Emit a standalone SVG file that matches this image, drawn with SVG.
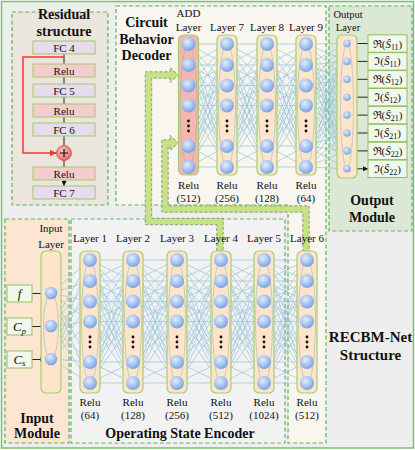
<svg xmlns="http://www.w3.org/2000/svg" xmlns:xlink="http://www.w3.org/1999/xlink" width="415" height="450" viewBox="0 0 415 450">
<style>
.t{font-family:'Liberation Serif','Times New Roman',serif;fill:#111;text-anchor:middle}
.s{font-size:11px}
.b{font-size:14px;font-weight:bold}
.pan{stroke:#5fb55a;stroke-width:1.2;stroke-dasharray:4 2.5}
.col{fill:#fde4cb;stroke:#a9cd72;stroke-width:1.2}
.add{fill:#f6b5ad;stroke:#a9cd72;stroke-width:1.2}
.fc{fill:#e6dcee;stroke:#a3c86b;stroke-width:1}
.re{fill:#f5cccc;stroke:#a3c86b;stroke-width:1}
.ib{fill:#f2f7ec;stroke:#8fc05f;stroke-width:1}
.cl{fill:none;stroke:#8fc0da;stroke-width:0.7;opacity:0.9}
.ar{fill:none;stroke:#111;stroke-width:0.9}
.ga{fill:#c5e384;stroke:#808080;stroke-width:0.8;stroke-dasharray:3 2}
</style>
<defs>
<radialGradient id="ng" cx="40%" cy="35%" r="65%">
<stop offset="0" stop-color="#e3edfc"/>
<stop offset="0.6" stop-color="#a4c2ee"/>
<stop offset="1" stop-color="#7aa3e2"/>
</radialGradient>
<radialGradient id="pg" cx="40%" cy="35%" r="65%">
<stop offset="0" stop-color="#fbc6c0"/>
<stop offset="1" stop-color="#e46a66"/>
</radialGradient>
<marker id="ah" markerUnits="userSpaceOnUse" markerWidth="5" markerHeight="5" refX="5" refY="2.5" orient="auto">
<path d="M0,0 L5,2.5 L0,5 z" fill="#111"/>
</marker>
<marker id="rh" markerUnits="userSpaceOnUse" markerWidth="7" markerHeight="7" refX="7" refY="3.5" orient="auto">
<path d="M0,0 L7,3.5 L0,7 z" fill="#ff3333"/>
</marker>
<path id="b66" class="cl" vector-effect="non-scaling-stroke" d="M0 0L1 0M0 0L1 21M0 0L1 41.5M0 0L1 61.5M0 0L1 102M0 0L1 123M0 21L1 0M0 21L1 21M0 21L1 41.5M0 21L1 61.5M0 21L1 102M0 21L1 123M0 41.5L1 0M0 41.5L1 21M0 41.5L1 41.5M0 41.5L1 61.5M0 41.5L1 102M0 41.5L1 123M0 61.5L1 0M0 61.5L1 21M0 61.5L1 41.5M0 61.5L1 61.5M0 61.5L1 102M0 61.5L1 123M0 102L1 0M0 102L1 21M0 102L1 41.5M0 102L1 61.5M0 102L1 102M0 102L1 123M0 123L1 0M0 123L1 21M0 123L1 41.5M0 123L1 61.5M0 123L1 102M0 123L1 123"/>
<g id="neur6">
<ellipse cx="0" cy="61.5" rx="8.5" ry="61.5" fill="none" stroke="#7fb3a0" stroke-width="0.8" opacity="0.6"/>
<circle cx="0" cy="0" r="7" fill="url(#ng)"/>
<circle cx="0" cy="21" r="7" fill="url(#ng)"/>
<circle cx="0" cy="41.5" r="7" fill="url(#ng)"/>
<circle cx="0" cy="61.5" r="7" fill="url(#ng)"/>
<circle cx="0" cy="102" r="7" fill="url(#ng)"/>
<circle cx="0" cy="123" r="7" fill="url(#ng)"/>
<circle cx="0" cy="77" r="1.4" fill="#111"/>
<circle cx="0" cy="82" r="1.4" fill="#111"/>
<circle cx="0" cy="87" r="1.4" fill="#111"/>
</g>
</defs>

<!-- background and panels -->
<rect x="1.5" y="1.5" width="412" height="446.5" fill="#eeeeee" stroke="#7ac36a" stroke-width="1.5"/>
<g id="residual-panel">
<rect class="pan" x="12" y="12" width="96" height="193" fill="#ebe6dd"/>
<text class="t b" x="64" y="19">Residual</text>
<text class="t b" x="64" y="36">structure</text>
</g>
<g id="decoder-panel">
<path class="pan" d="M116 6H326V443H288V205H116Z" fill="#f8f6ee"/>
<text class="t b" x="146.5" y="27">Circuit</text>
<text class="t b" x="146.5" y="44">Behavior</text>
<text class="t b" x="146.5" y="60">Decoder</text>
</g>
<g id="output-panel">
<rect class="pan" x="329" y="6" width="83" height="225" fill="#dce8d6"/>
<text class="t b" x="372" y="205">Output</text>
<text class="t b" x="372" y="222">Module</text>
</g>
<g id="input-panel">
<rect class="pan" x="5" y="219" width="64" height="224" fill="#fce5d1"/>
<text class="t b" x="37" y="423">Input</text>
<text class="t b" x="37" y="438">Module</text>
</g>
<g id="encoder-panel">
<rect class="pan" x="71" y="219" width="214" height="224" fill="#f2f2f2"/>
<text class="t b" x="180" y="438">Operating State Encoder</text>
</g>
<g id="title">
<text class="t" x="370.5" y="342" style="font-size:15px;font-weight:bold">RECBM-Net</text>
<text class="t" x="370.5" y="360" style="font-size:15px;font-weight:bold">Structure</text>
</g>

<!-- connectors -->
<g id="connectors">
<path class="cl" d="M51 293L90 260M51 293L90 281M51 293L90 301.5M51 293L90 321.5M51 293L90 362M51 293L90 383M51 326L90 260M51 326L90 281M51 326L90 301.5M51 326L90 321.5M51 326L90 362M51 326L90 383M51 359L90 260M51 359L90 281M51 359L90 301.5M51 359L90 321.5M51 359L90 362M51 359L90 383"/>
<use xlink:href="#b66" href="#b66" transform="translate(90,260) scale(43,1)"/>
<use xlink:href="#b66" href="#b66" transform="translate(133,260) scale(44,1)"/>
<use xlink:href="#b66" href="#b66" transform="translate(177,260) scale(44,1)"/>
<use xlink:href="#b66" href="#b66" transform="translate(221,260) scale(43,1)"/>
<use xlink:href="#b66" href="#b66" transform="translate(264,260) scale(43,1)"/>
<use xlink:href="#b66" href="#b66" transform="translate(188.5,44) scale(38.5,1)"/>
<use xlink:href="#b66" href="#b66" transform="translate(227,44) scale(40,1)"/>
<use xlink:href="#b66" href="#b66" transform="translate(267,44) scale(39,1)"/>
<path class="cl" d="M306 44L347 43.5M306 44L347 61.4M306 44L347 79.3M306 44L347 97.2M306 44L347 115.1M306 44L347 133M306 44L347 150.9M306 44L347 168.8M306 65L347 43.5M306 65L347 61.4M306 65L347 79.3M306 65L347 97.2M306 65L347 115.1M306 65L347 133M306 65L347 150.9M306 65L347 168.8M306 85.5L347 43.5M306 85.5L347 61.4M306 85.5L347 79.3M306 85.5L347 97.2M306 85.5L347 115.1M306 85.5L347 133M306 85.5L347 150.9M306 85.5L347 168.8M306 105.5L347 43.5M306 105.5L347 61.4M306 105.5L347 79.3M306 105.5L347 97.2M306 105.5L347 115.1M306 105.5L347 133M306 105.5L347 150.9M306 105.5L347 168.8M306 146L347 43.5M306 146L347 61.4M306 146L347 79.3M306 146L347 97.2M306 146L347 115.1M306 146L347 133M306 146L347 150.9M306 146L347 168.8M306 167L347 43.5M306 167L347 61.4M306 167L347 79.3M306 167L347 97.2M306 167L347 115.1M306 167L347 133M306 167L347 150.9M306 167L347 168.8"/>
<!-- residual arrows -->
<path class="ar" marker-end="url(#ah)" d="M64 54V64M64 77V84M64 97V104M64 117V123M64 136V145.5M64 160.5V167M64 180V186"/>
<path d="M64 57H23V153H56.5" fill="none" stroke="#ff3333" stroke-width="1.5" marker-end="url(#rh)"/>
<!-- input arrows -->
<path class="ar" marker-end="url(#ah)" d="M32 293.5H44.5M32 326.5H44.5M32 359.5H44.5"/>
<!-- output arrows -->
<path class="ar" marker-end="url(#ah)" d="M351 43.5H368M351 61.4H368M351 79.3H368M351 97.2H368M351 115.1H368M351 133H368M351 150.9H368M351 168.8H368"/>
<!-- skip paths to ADD layer -->
<polygon class="ga" points="216.8,251 216.8,224.7 145.3,224.7 145.3,71.8 170,71.8 170,67.5 178.5,75 170,82.5 170,78.2 151.7,78.2 151.7,218.3 223.2,218.3 223.2,251"/>
<polygon class="ga" points="302.8,252 302.8,212.2 161.8,212.2 161.8,139.8 170,139.8 170,135.5 178.5,143 170,150.5 170,146.2 168.2,146.2 168.2,205.8 309.2,205.8 309.2,252"/>
</g>

<!-- residual nodes -->
<g id="fc4"><rect class="fc" x="33" y="41" width="62" height="13"/><text class="t s" x="64" y="51.5">FC 4</text></g>
<g id="relu-a"><rect class="re" x="33" y="64" width="62" height="13"/><text class="t s" x="64" y="74.5">Relu</text></g>
<g id="fc5"><rect class="fc" x="33" y="84" width="62" height="13"/><text class="t s" x="64" y="94.5">FC 5</text></g>
<g id="relu-b"><rect class="re" x="33" y="104" width="62" height="13"/><text class="t s" x="64" y="114.5">Relu</text></g>
<g id="fc6"><rect class="fc" x="33" y="123" width="62" height="13"/><text class="t s" x="64" y="133.5">FC 6</text></g>
<g id="plus"><circle cx="64" cy="153" r="7.5" fill="url(#pg)" stroke="#d04a4a" stroke-width="0.8"/><path d="M60 153H68M64 149V157" stroke="#111" stroke-width="1.2"/></g>
<g id="relu-c"><rect class="re" x="33" y="167" width="62" height="13"/><text class="t s" x="64" y="177.5">Relu</text></g>
<g id="fc7"><rect class="fc" x="33" y="186" width="62" height="13"/><text class="t s" x="64" y="196.5">FC 7</text></g>

<!-- input nodes -->
<g id="in-f"><rect class="ib" x="7" y="285" width="25" height="17"/><text class="t" x="19.5" y="298" style="font-size:13px;font-style:italic">f</text></g>
<g id="in-cp"><rect class="ib" x="7" y="318" width="25" height="17"/><text class="t" x="19.5" y="331" style="font-size:13px;font-style:italic">C<tspan font-size="9" dy="3">p</tspan></text></g>
<g id="in-cs"><rect class="ib" x="7" y="351" width="25" height="17"/><text class="t" x="19.5" y="364" style="font-size:13px;font-style:italic">C<tspan font-size="9" dy="2">s</tspan></text></g>

<g id="input-layer">
<rect class="col" x="41" y="251" width="20" height="142" rx="5"/>
<ellipse cx="51" cy="326" rx="7.5" ry="33" fill="none" stroke="#7fb3a0" stroke-width="0.8" opacity="0.6"/>
<circle cx="51" cy="293" r="6.3" fill="url(#ng)"/>
<circle cx="51" cy="326" r="6.3" fill="url(#ng)"/>
<circle cx="51" cy="359" r="6.3" fill="url(#ng)"/>
<text class="t s" x="51" y="232">Input</text>
<text class="t s" x="51" y="247.5">Layer</text>
</g>

<!-- encoder layers -->
<g id="layer1"><rect class="col" x="80" y="251" width="20" height="142" rx="5"/><use href="#neur6" xlink:href="#neur6" transform="translate(90,260)"/><text class="t s" x="90" y="241.5">Layer 1</text><text class="t s" x="90" y="406">Relu</text><text class="t s" x="90" y="418.5">(64)</text></g>
<g id="layer2"><rect class="col" x="123" y="251" width="20" height="142" rx="5"/><use href="#neur6" xlink:href="#neur6" transform="translate(133,260)"/><text class="t s" x="133" y="241.5">Layer 2</text><text class="t s" x="133" y="406">Relu</text><text class="t s" x="133" y="418.5">(128)</text></g>
<g id="layer3"><rect class="col" x="167" y="251" width="20" height="142" rx="5"/><use href="#neur6" xlink:href="#neur6" transform="translate(177,260)"/><text class="t s" x="177" y="241.5">Layer 3</text><text class="t s" x="177" y="406">Relu</text><text class="t s" x="177" y="418.5">(256)</text></g>
<g id="layer4"><rect class="col" x="211" y="251" width="20" height="142" rx="5"/><use href="#neur6" xlink:href="#neur6" transform="translate(221,260)"/><text class="t s" x="221" y="241.5">Layer 4</text><text class="t s" x="221" y="406">Relu</text><text class="t s" x="221" y="418.5">(512)</text></g>
<g id="layer5"><rect class="col" x="254" y="251" width="20" height="142" rx="5"/><use href="#neur6" xlink:href="#neur6" transform="translate(264,260)"/><text class="t s" x="264" y="241.5">Layer 5</text><text class="t s" x="264" y="406">Relu</text><text class="t s" x="264" y="418.5">(1024)</text></g>
<g id="layer6"><rect class="col" x="297" y="251" width="20" height="142" rx="5"/><use href="#neur6" xlink:href="#neur6" transform="translate(307,260)"/><text class="t s" x="307" y="241.5">Layer 6</text><text class="t s" x="307" y="406">Relu</text><text class="t s" x="307" y="418.5">(512)</text></g>

<!-- decoder layers -->
<g id="add-layer"><rect class="add" x="178.5" y="35" width="20" height="140" rx="5"/><use href="#neur6" xlink:href="#neur6" transform="translate(188.5,44)"/><text class="t s" x="188.5" y="17">ADD</text><text class="t s" x="188.5" y="30.5">Layer</text><text class="t s" x="188.5" y="189">Relu</text><text class="t s" x="188.5" y="201.5">(512)</text></g>
<g id="layer7"><rect class="col" x="217" y="35" width="20" height="140" rx="5"/><use href="#neur6" xlink:href="#neur6" transform="translate(227,44)"/><text class="t s" x="227" y="30.5">Layer 7</text><text class="t s" x="227" y="189">Relu</text><text class="t s" x="227" y="201.5">(256)</text></g>
<g id="layer8"><rect class="col" x="257" y="35" width="20" height="140" rx="5"/><use href="#neur6" xlink:href="#neur6" transform="translate(267,44)"/><text class="t s" x="267" y="30.5">Layer 8</text><text class="t s" x="267" y="189">Relu</text><text class="t s" x="267" y="201.5">(128)</text></g>
<g id="layer9"><rect class="col" x="296" y="35" width="20" height="140" rx="5"/><use href="#neur6" xlink:href="#neur6" transform="translate(306,44)"/><text class="t s" x="306" y="30.5">Layer 9</text><text class="t s" x="306" y="189">Relu</text><text class="t s" x="306" y="201.5">(64)</text></g>

<!-- output layer -->
<g id="output-layer">
<rect class="col" x="337" y="35" width="20" height="143" rx="5"/>
<ellipse cx="347" cy="106" rx="6.5" ry="62.5" fill="none" stroke="#7fb3a0" stroke-width="0.8" opacity="0.6"/>
<circle cx="347" cy="43.5" r="3.8" fill="url(#ng)"/>
<circle cx="347" cy="61.4" r="3.8" fill="url(#ng)"/>
<circle cx="347" cy="79.3" r="3.8" fill="url(#ng)"/>
<circle cx="347" cy="97.2" r="3.8" fill="url(#ng)"/>
<circle cx="347" cy="115.1" r="3.8" fill="url(#ng)"/>
<circle cx="347" cy="133" r="3.8" fill="url(#ng)"/>
<circle cx="347" cy="150.9" r="3.8" fill="url(#ng)"/>
<circle cx="347" cy="168.8" r="3.8" fill="url(#ng)"/>
<text class="t" x="348" y="18" style="font-size:10.5px">Output</text>
<text class="t" x="348" y="31" style="font-size:10.5px">Layer</text>
</g>

<!-- output labels -->
<g id="out-re-s11"><rect class="ib" x="368" y="34.8" width="39" height="17.4"/><text class="t s" x="387.5" y="47.5">ℜ(<tspan font-style="italic">Ŝ</tspan><tspan font-size="8" dy="2">11</tspan><tspan dy="-2">)</tspan></text></g>
<g id="out-im-s11"><rect class="ib" x="368" y="52.7" width="39" height="17.4"/><text class="t s" x="387.5" y="65.4">ℑ(<tspan font-style="italic">Ŝ</tspan><tspan font-size="8" dy="2">11</tspan><tspan dy="-2">)</tspan></text></g>
<g id="out-re-s12"><rect class="ib" x="368" y="70.6" width="39" height="17.4"/><text class="t s" x="387.5" y="83.3">ℜ(<tspan font-style="italic">Ŝ</tspan><tspan font-size="8" dy="2">12</tspan><tspan dy="-2">)</tspan></text></g>
<g id="out-im-s12"><rect class="ib" x="368" y="88.5" width="39" height="17.4"/><text class="t s" x="387.5" y="101.2">ℑ(<tspan font-style="italic">Ŝ</tspan><tspan font-size="8" dy="2">12</tspan><tspan dy="-2">)</tspan></text></g>
<g id="out-re-s21"><rect class="ib" x="368" y="106.4" width="39" height="17.4"/><text class="t s" x="387.5" y="119.1">ℜ(<tspan font-style="italic">Ŝ</tspan><tspan font-size="8" dy="2">21</tspan><tspan dy="-2">)</tspan></text></g>
<g id="out-im-s21"><rect class="ib" x="368" y="124.3" width="39" height="17.4"/><text class="t s" x="387.5" y="137">ℑ(<tspan font-style="italic">Ŝ</tspan><tspan font-size="8" dy="2">21</tspan><tspan dy="-2">)</tspan></text></g>
<g id="out-re-s22"><rect class="ib" x="368" y="142.2" width="39" height="17.4"/><text class="t s" x="387.5" y="154.9">ℜ(<tspan font-style="italic">Ŝ</tspan><tspan font-size="8" dy="2">22</tspan><tspan dy="-2">)</tspan></text></g>
<g id="out-im-s22"><rect class="ib" x="368" y="160.1" width="39" height="17.4"/><text class="t s" x="387.5" y="172.8">ℑ(<tspan font-style="italic">Ŝ</tspan><tspan font-size="8" dy="2">22</tspan><tspan dy="-2">)</tspan></text></g>
</svg>
